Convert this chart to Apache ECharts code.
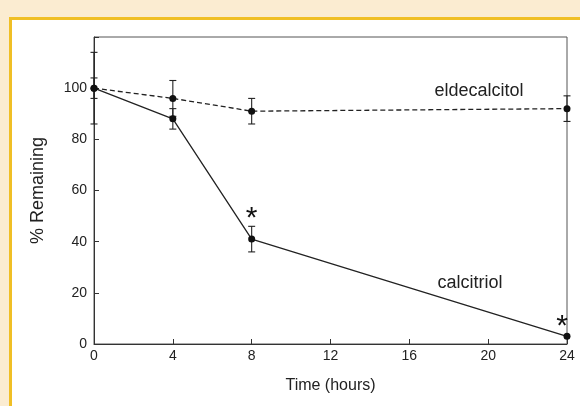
<!DOCTYPE html>
<html>
<head>
<meta charset="utf-8">
<script src="https://cdn.jsdelivr.net/npm/echarts@6/dist/echarts.min.js"></script>
<style>
html,body{margin:0;padding:0;background:#fbecd1;}
#frame{position:absolute;left:9px;top:17px;width:571px;height:389px;background:#fff;border-left:3px solid #f0bf25;border-top:3px solid #f0bf25;box-sizing:border-box;}
#chart{position:absolute;left:0;top:0;width:580px;height:406px;}
</style>
</head>
<body>
<div id="frame"></div>
<div id="chart"></div>
<script>
const times = [0, 4, 8, 24];
const calcitriol = [100, 88, 41, 3];
const calcitriolErr = [14, 4, 5, 0];
const eldecalcitol = [100, 96, 91, 92];
const eldecalcitolErr = [4, 7, 5, 5];
const xTicks = [0, 4, 8, 12, 16, 20, 24];
const yTicks = [0, 20, 40, 60, 80, 100];

const chart = echarts.init(document.getElementById('chart'), null, {renderer: 'canvas'});
const font = 'Liberation Sans, Arial, sans-serif';

function errData(vals, errs) {
  return times.map((t, i) => [t, vals[i] - errs[i], vals[i] + errs[i]]).filter((d, i) => errs[i] > 0);
}
function errSeries(vals, errs) {
  return {
    type: 'custom',
    data: errData(vals, errs),
    z: 3,
    renderItem: function (params, api) {
      const lo = api.coord([api.value(0), api.value(1)]);
      const hi = api.coord([api.value(0), api.value(2)]);
      const w = 3.5;
      const st = {stroke: '#222', lineWidth: 1.1};
      return {type: 'group', children: [
        {type: 'line', shape: {x1: lo[0], y1: lo[1], x2: hi[0], y2: hi[1]}, style: st},
        {type: 'line', shape: {x1: lo[0]-w, y1: lo[1], x2: lo[0]+w, y2: lo[1]}, style: st},
        {type: 'line', shape: {x1: hi[0]-w, y1: hi[1], x2: hi[0]+w, y2: hi[1]}, style: st}
      ]};
    }
  };
}

const starLabel = (ox, oy) => ({show: true, formatter: '*', position: 'inside', offset: [ox, oy], fontSize: 30, color: '#111', fontFamily: font});
const calcData = times.map((t, i) => {
  const d = {value: [t, calcitriol[i]]};
  if (t === 8) d.label = starLabel(0, -20);
  if (t === 24) d.label = starLabel(-5, -10);
  return d;
});

chart.setOption({
  animation: false,
  grid: {left: 94, right: 13, top: 37, bottom: 62, show: true, borderColor: '#555', borderWidth: 1, backgroundColor: 'transparent'},
  xAxis: {
    type: 'value', min: 0, max: 24, interval: 4,
    name: 'Time (hours)', nameLocation: 'middle', nameGap: 34,
    nameTextStyle: {fontSize: 16, color: '#222', fontFamily: font},
    axisLine: {show: true, lineStyle: {color: '#333', width: 1}},
    axisTick: {show: true, inside: true, length: 5, lineStyle: {color: '#333'}},
    axisLabel: {fontSize: 14, color: '#222', fontFamily: font, margin: 5},
    splitLine: {show: false}
  },
  yAxis: {
    type: 'value', min: 0, max: 120, interval: 20,
    name: '% Remaining', nameLocation: 'middle', nameGap: 47,
    nameTextStyle: {fontSize: 18, color: '#222', fontFamily: font},
    axisLine: {show: true, lineStyle: {color: '#333', width: 1}},
    axisTick: {show: true, inside: true, length: 5, lineStyle: {color: '#333'}},
    axisLabel: {fontSize: 14, color: '#222', fontFamily: font, margin: 7,
      formatter: v => yTicks.indexOf(v) >= 0 ? String(v) : ''},
    splitLine: {show: false}
  },
  series: [
    {
      type: 'line', name: 'eldecalcitol',
      data: times.map((t, i) => [t, eldecalcitol[i]]),
      symbol: 'circle', symbolSize: 7,
      itemStyle: {color: '#111'},
      lineStyle: {color: '#222', width: 1.3, type: [5, 3]},
      z: 4,
      markPoint: {
        symbol: 'rect', symbolSize: 0,
        data: [{coord: [19.53, 98.8], value: 'eldecalcitol'}],
        label: {show: true, formatter: 'eldecalcitol', color: '#222', fontSize: 18, fontFamily: font, position: 'inside'}
      }
    },
    {
      type: 'line', name: 'calcitriol',
      data: calcData,
      symbol: 'circle', symbolSize: 7,
      itemStyle: {color: '#111'},
      lineStyle: {color: '#222', width: 1.3},
      z: 4,
      markPoint: {
        symbol: 'rect', symbolSize: 0,
        data: [{coord: [19.08, 23.8], value: 'calcitriol'}],
        label: {show: true, formatter: 'calcitriol', color: '#222', fontSize: 18, fontFamily: font, position: 'inside'}
      }
    },
    errSeries(eldecalcitol, eldecalcitolErr),
    errSeries(calcitriol, calcitriolErr)
  ]
});
</script>
</body>
</html>
